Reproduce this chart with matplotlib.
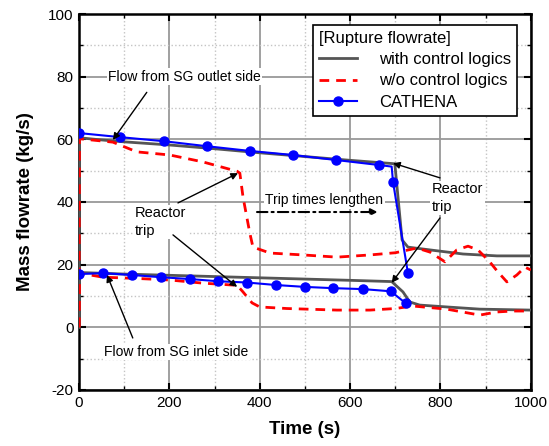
import matplotlib
matplotlib.use("Agg")
import matplotlib.pyplot as plt
from matplotlib.ticker import MultipleLocator

plt.rcParams['font.family'] = ['Liberation Sans', 'DejaVu Sans']
plt.rcParams['axes.unicode_minus'] = False

# with control logics (gray)
t_ctrl_up = [0, 1, 50, 100, 200, 300, 400, 500, 600, 690, 699, 715, 728, 777, 850, 925, 1000]
ctrl_up = [0, 60.5, 59.8, 59.2, 58.2, 57.0, 55.7, 54.5, 53.3, 52.3, 52.2, 27.9, 25.6, 24.7, 23.4, 22.8, 22.8]
t_ctrl_lo = [0, 1, 100, 200, 300, 400, 500, 600, 692, 717, 732, 754, 814, 887, 1000]
ctrl_lo = [0, 17.5, 17.0, 16.6, 16.2, 15.8, 15.4, 15.0, 14.6, 11.3, 8.1, 7.1, 6.5, 5.8, 5.5]

# w/o control logics (red dashed)
t_noc_up = [0, 1, 75, 128, 201, 274, 350, 356, 363, 378, 385, 423, 496, 571, 644, 700, 748,
            777, 810, 836, 861, 883, 909, 927, 947, 969, 987, 1000]
noc_up = [0, 60.2, 59.1, 56.0, 55.0, 52.8, 49.8, 49.2, 41.6, 30.1, 25.6, 23.7, 23.1, 22.4, 23.1, 23.8, 25.3,
          24.0, 20.9, 24.7, 25.9, 24.7, 20.9, 17.7, 14.5, 16.7, 19.2, 18.3]
t_noc_lo = [0, 1, 53, 128, 201, 274, 350, 363, 383, 400, 460, 571, 644, 700, 739, 814, 887, 925, 960, 1000]
noc_lo = [0, 17.3, 16.0, 15.6, 15.1, 14.1, 13.4, 11.3, 7.8, 6.5, 6.0, 5.5, 5.5, 6.0, 6.8, 5.8, 3.9, 4.9, 5.2, 5.2]

# CATHENA (blue)
t_cat_up = [0, 91, 188, 283, 378, 473, 569, 664, 692, 695, 728]
cat_up = [62.0, 60.7, 59.4, 57.8, 56.3, 55.0, 53.4, 51.8, 51.3, 46.4, 17.3]
t_cat_lo = [0, 53, 117, 181, 246, 308, 372, 436, 500, 562, 628, 690, 723]
cat_lo = [17.0, 17.3, 16.7, 16.0, 15.4, 14.7, 14.3, 13.5, 12.9, 12.5, 12.2, 11.5, 7.7]

fig = plt.figure(figsize=(5.49, 4.46), dpi=100)
ax = fig.add_axes([0.1439, 0.1256, 0.823, 0.843])

gray = '#555555'
ax.plot(t_ctrl_up, ctrl_up, color=gray, lw=2, label='with control logics', zorder=3)
ax.plot(t_ctrl_lo, ctrl_lo, color=gray, lw=2, zorder=3)
ax.plot(t_noc_up, noc_up, color='#ff0000', lw=2, dashes=(3.5, 2.5), label='w/o control logics', zorder=3)
ax.plot(t_noc_lo, noc_lo, color='#ff0000', lw=2, dashes=(3.5, 2.5), zorder=3)
mk_up = [i for i in range(len(t_cat_up)) if i != 8]
ax.plot(t_cat_up, cat_up, color='#0000ff', lw=1.5, marker='o', ms=6.5, markevery=mk_up,
        label='CATHENA', zorder=4)
ax.plot(t_cat_lo, cat_lo, color='#0000ff', lw=1.5, marker='o', ms=6.5, zorder=4)

ax.set_xlim(0, 1000)
ax.set_ylim(-20, 100)
ax.xaxis.set_major_locator(MultipleLocator(200))
ax.xaxis.set_minor_locator(MultipleLocator(100))
ax.yaxis.set_major_locator(MultipleLocator(20))
ax.yaxis.set_minor_locator(MultipleLocator(10))
ax.grid(which='major', color='#999999', lw=1.3, ls='-', zorder=0)
ax.grid(which='minor', color='#c4c4c4', lw=1, ls=':', zorder=0)
ax.set_axisbelow(True)
ax.tick_params(which='major', direction='in', length=5, width=1.5, top=True, right=True,
               labelsize=11, pad=4)
ax.tick_params(which='minor', direction='in', length=3, width=1, top=True, right=True)
for s in ax.spines.values():
    s.set_linewidth(1.8)

ax.set_xlabel('Time (s)', fontsize=13.5, fontweight='bold', labelpad=8)
ax.set_ylabel('Mass flowrate (kg/s)', fontsize=13.5, fontweight='bold', labelpad=10)

leg = ax.legend(title='[Rupture flowrate]', loc='upper right', fontsize=12, title_fontsize=12,
                fancybox=False, edgecolor='black', framealpha=1, alignment='left',
                handlelength=2.3, handletextpad=1.3, borderpad=0.35, labelspacing=0.38,
                borderaxespad=0, bbox_to_anchor=(0.969, 0.971))
leg.get_frame().set_linewidth(1.2)
leg.set_zorder(10)

wb = dict(facecolor='white', edgecolor='none', pad=1)
arr = dict(arrowstyle='-|>', color='black', lw=1, mutation_scale=10, shrinkA=0, shrinkB=0)
fs = 10

ax.text(234, 80, 'Flow from SG outlet side', fontsize=fs, ha='center', va='center', bbox=wb, zorder=6)
ax.annotate('', xy=(75, 59.8), xytext=(150, 75.0), arrowprops=arr, zorder=6)

ax.text(215, -7.9, 'Flow from SG inlet side', fontsize=fs, ha='center', va='center', bbox=wb, zorder=6)
ax.annotate('', xy=(62, 16.7), xytext=(119, -3.4), arrowprops=arr, zorder=6)

ax.text(124, 33.6, 'Reactor\ntrip', fontsize=10.5, ha='left', va='center', bbox=wb, zorder=6,
        linespacing=1.35)
ax.annotate('', xy=(352, 49.2), xytext=(219, 39.7), arrowprops=arr, zorder=6)
ax.annotate('', xy=(350, 12.9), xytext=(208, 29.5), arrowprops=arr, zorder=6)

ax.text(781, 41.3, 'Reactor\ntrip', fontsize=10.5, ha='left', va='center', bbox=wb, zorder=6,
        linespacing=1.35)
ax.annotate('', xy=(695, 52.4), xytext=(799, 47.7), arrowprops=arr, zorder=6)
ax.annotate('', xy=(692, 14.2), xytext=(799, 34.9), arrowprops=arr, zorder=6)

ax.text(412, 40.6, 'Trip times lengthen', fontsize=fs, ha='left', va='center', bbox=wb, zorder=6)
ax.annotate('', xy=(661, 36.8), xytext=(394, 36.8),
            arrowprops=dict(arrowstyle='-|>', color='black', lw=1.5, ls=(0, (5, 2, 1, 2)),
                            mutation_scale=10, shrinkA=0, shrinkB=0), zorder=6)

fig.savefig('out.png', dpi=100)
